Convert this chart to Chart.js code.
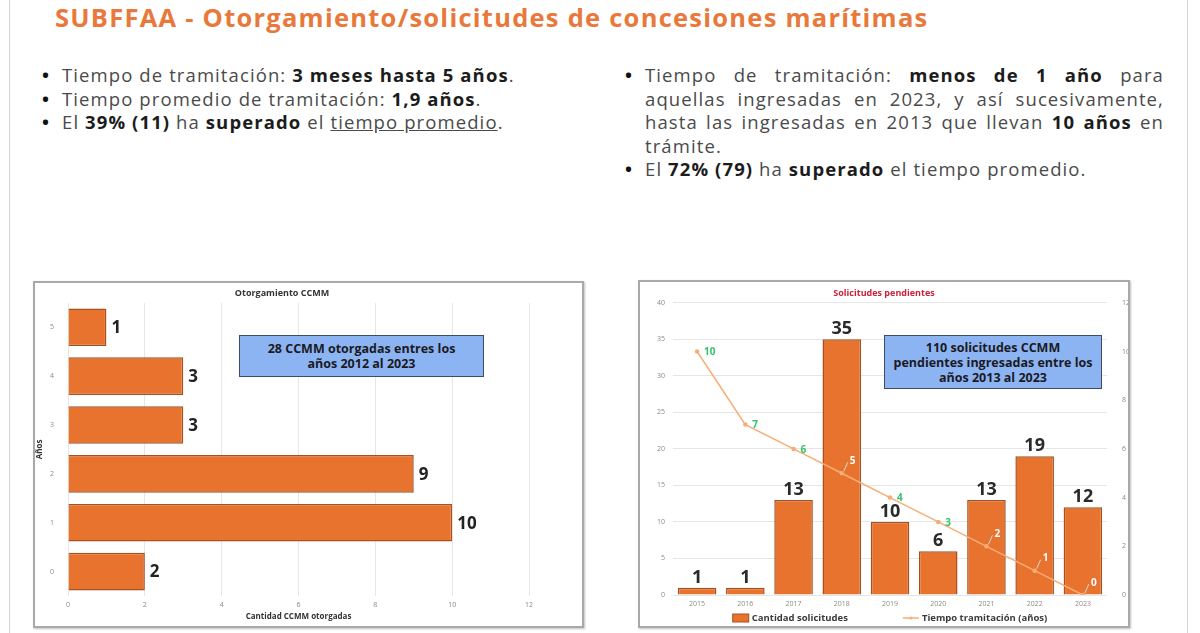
<!DOCTYPE html>
<html>
<head>
<meta charset="utf-8">
<script src="https://cdn.jsdelivr.net/npm/chart.js@4.4.0/dist/chart.umd.min.js"></script>
<style>
body { margin: 0; width: 1200px; height: 633px; background: #fff; position: relative; overflow: hidden; font-family: "Open Sans", "Noto Sans", sans-serif; }
.slide { position: absolute; left: 9px; top: -2px; width: 1177px; height: 640px; border-left: 1px solid #d6d6d6; border-right: 1px solid #d6d6d6; }
h1 { position: absolute; left: 55px; top: 0px; margin: 0; font-size: 25.5px; letter-spacing: 1.25px; font-weight: 700; color: #e8793b; white-space: nowrap; }
ul { position: absolute; margin: 0; padding: 0; list-style: none; font-size: 18.5px; letter-spacing: 1.1px; line-height: 23.6px; color: #4a4a4a; }
li { position: relative; padding-left: 20px; }
li:before { content: "\2022"; position: absolute; left: 0; color: #111; font-weight: 700; }
b { color: #1c1c1c; }
.frame { position: absolute; box-sizing: border-box; border: 2px solid #a9a9a9; background: #fff; box-shadow: 1px 1px 2px rgba(0,0,0,0.25); }
.frame canvas { position: absolute; left: 0; top: 0; }
.note { position: absolute; box-sizing: border-box; background: #8db4f2; border: 1.5px solid #3e4c66; color: #1a1a24; font-weight: 700; font-size: 12.5px; line-height: 15px; text-align: center; display: flex; align-items: center; justify-content: center; }
</style>
</head>
<body>
<div class="slide"></div>
<h1>SUBFFAA - Otorgamiento/solicitudes de concesiones marítimas</h1>

<ul style="left:42px; top:63px; width:540px;">
  <li>Tiempo de tramitación: <b>3 meses hasta 5 años</b>.</li>
  <li>Tiempo promedio de tramitación: <b>1,9 años</b>.</li>
  <li>El <b>39% (11)</b> ha <b>superado</b> el <u>tiempo promedio</u>.</li>
</ul>

<ul style="left:625px; top:63px; width:539px; text-align:justify;">
  <li>Tiempo de tramitación: <b>menos de 1 año</b> para aquellas ingresadas en 2023, y así sucesivamente, hasta las ingresadas en 2013 que llevan <b>10 años</b> en trámite.</li>
  <li>El <b>72% (79)</b> ha <b>superado</b> el tiempo promedio.</li>
</ul>

<div class="frame" style="left:33px; top:281px; width:551px; height:347px;">
  <canvas id="grantChart" width="547" height="343"></canvas>
</div>
<div class="frame" style="left:638px; top:280px; width:492px; height:348px;">
  <canvas id="requestChart" width="488" height="344"></canvas>
</div>

<div class="note" style="left:239px; top:335px; width:245px; height:42px;">28 CCMM otorgadas entres los<br>años 2012 al 2023</div>
<div class="note" style="left:884px; top:335px; width:218px; height:54px;">110 solicitudes CCMM<br>pendientes ingresadas entre los<br>años 2013 al 2023</div>

<script>
// otorgamiento: años de tramitación vs cantidad otorgada
const grantYears = ['0', '1', '2', '3', '4', '5'];
const grantCounts = [2, 10, 9, 3, 3, 1];

// solicitudes pendientes por año de ingreso
const requestYears = ['2015', '2016', '2017', '2018', '2019', '2020', '2021', '2022', '2023'];
const requestCounts = [1, 1, 13, 35, 10, 6, 13, 19, 12];
const processingYears = [10, 7, 6, 5, 4, 3, 2, 1, 0];

const orange = '#e8732f';
const orangeEdge = '#a9501f';
const tickFont = { family: 'Open Sans', size: 7 };
const tickColor = '#8a8a8a';
const gridColor = '#e6e6e6';

Chart.defaults.font.family = 'Open Sans';

// etiquetas de las barras horizontales
const grantLabels = {
    id: 'grantLabels',
    afterDatasetsDraw(chart) {
        const ctx = chart.ctx;
        const meta = chart.getDatasetMeta(0);
        ctx.save();
        ctx.font = 'bold 17px "Open Sans"';
        ctx.fillStyle = '#222';
        ctx.textAlign = 'left';
        ctx.textBaseline = 'middle';
        meta.data.forEach(function (bar, i) {
            ctx.fillText(chart.data.datasets[0].data[i], bar.x + 5, bar.y + 1);
        });
        ctx.restore();
    }
};

const grantConfig = {
    type: 'bar',
    data: {
        labels: grantYears,
        datasets: [{
            data: grantCounts,
            backgroundColor: orange,
            borderColor: orangeEdge,
            borderWidth: 1.5,
            barPercentage: 0.77,
            categoryPercentage: 1
        }]
    },
    options: {
        indexAxis: 'y',
        responsive: false,
        animation: false,
        devicePixelRatio: 1,
        layout: { padding: { left: 0, right: 53, top: 0, bottom: 0 } },
        plugins: {
            legend: { display: false },
            tooltip: { enabled: false },
            title: {
                display: true,
                text: 'Otorgamiento CCMM',
                color: '#333',
                font: { size: 9, weight: 'bold' },
                padding: { top: 5, bottom: 4 }
            }
        },
        scales: {
            x: {
                min: 0, max: 12,
                ticks: { stepSize: 2, font: tickFont, color: tickColor, padding: 5 },
                grid: { color: gridColor, drawTicks: false },
                border: { display: false },
                title: { display: true, text: 'Cantidad CCMM otorgadas', color: '#333', font: { size: 8, weight: 'bold' }, padding: { top: 0, bottom: 4 } },
                afterFit: function (s) { s.height = 30; }
            },
            y: {
                reverse: true,
                ticks: { font: tickFont, color: tickColor, padding: 6 },
                grid: { display: false },
                border: { display: false },
                title: { display: true, text: 'Años', color: '#333', font: { size: 8, weight: 'bold' }, padding: 0 },
                afterFit: function (s) { s.width = 33; }
            }
        }
    },
    plugins: [grantLabels]
};
new Chart(document.getElementById('grantChart'), grantConfig);

// etiquetas de barras, de la línea y leyenda
const requestLabels = {
    id: 'requestLabels',
    afterDatasetsDraw(chart) {
        const ctx = chart.ctx;
        const bars = chart.getDatasetMeta(0).data;
        const points = chart.getDatasetMeta(1).data;
        ctx.save();
        ctx.font = 'bold 18px "Open Sans"';
        ctx.fillStyle = '#2a2a2a';
        ctx.textAlign = 'center';
        ctx.textBaseline = 'bottom';
        bars.forEach(function (bar, i) {
            ctx.fillText(requestCounts[i], bar.x, bar.y - 1);
        });

        ctx.font = 'bold 10px "Open Sans"';
        ctx.textBaseline = 'middle';
        ctx.textAlign = 'left';
        points.forEach(function (pt, i) {
            const inside = pt.y >= bars[i].y - 1;
            if (inside) {
                ctx.strokeStyle = '#d9d9d9';
                ctx.lineWidth = 1;
                ctx.beginPath();
                ctx.moveTo(pt.x + 2, pt.y - 2);
                ctx.lineTo(pt.x + 6, pt.y - 11);
                ctx.stroke();
                ctx.fillStyle = '#ffffff';
                ctx.fillText(processingYears[i], pt.x + 8, pt.y - 12);
            } else {
                ctx.fillStyle = '#35c26a';
                ctx.fillText(processingYears[i], pt.x + 7, pt.y + 1);
            }
        });
        ctx.restore();
    },
    afterDraw(chart) {
        const ctx = chart.ctx;
        const ds = chart.data.datasets;
        const y = 336;
        ctx.save();
        ctx.font = 'bold 9.5px "Open Sans"';
        ctx.textBaseline = 'middle';
        ctx.textAlign = 'left';
        const w0 = ctx.measureText(ds[0].label).width;
        const w1 = ctx.measureText(ds[1].label).width;
        const gap = 55;
        const total = 16 + 3 + w0 + gap + 16 + 3 + w1;
        let x = (chart.chartArea.left + chart.chartArea.right) / 2 - total / 2;
        ctx.fillStyle = ds[0].backgroundColor;
        ctx.strokeStyle = ds[0].borderColor;
        ctx.fillRect(x, y - 4, 16, 8);
        ctx.strokeRect(x, y - 4, 16, 8);
        ctx.fillStyle = '#3a3a3a';
        ctx.fillText(ds[0].label, x + 19, y);
        x += 19 + w0 + gap;
        ctx.strokeStyle = ds[1].borderColor;
        ctx.lineWidth = 1.5;
        ctx.beginPath();
        ctx.moveTo(x, y);
        ctx.lineTo(x + 16, y);
        ctx.stroke();
        ctx.fillStyle = ds[1].borderColor;
        ctx.beginPath();
        ctx.arc(x + 8, y, 1.5, 0, Math.PI * 2);
        ctx.fill();
        ctx.fillStyle = '#3a3a3a';
        ctx.fillText(ds[1].label, x + 19, y);
        ctx.restore();
    }
};

const requestConfig = {
    type: 'bar',
    data: {
        labels: requestYears,
        datasets: [
            {
                type: 'bar',
                label: 'Cantidad solicitudes',
                data: requestCounts,
                backgroundColor: orange,
                borderColor: orangeEdge,
                borderWidth: 1.5,
                barPercentage: 0.8,
                categoryPercentage: 1,
                yAxisID: 'y',
                order: 2
            },
            {
                type: 'line',
                label: 'Tiempo tramitación (años)',
                data: processingYears,
                borderColor: '#f7ad76',
                backgroundColor: '#f7ad76',
                borderWidth: 1.5,
                pointRadius: 1.5,
                tension: 0,
                yAxisID: 'y1',
                order: 1
            }
        ]
    },
    options: {
        responsive: false,
        animation: false,
        devicePixelRatio: 1,
        layout: { padding: { left: 0, right: 0, top: 0, bottom: 0 } },
        plugins: {
            legend: { display: false },
            tooltip: { enabled: false },
            title: {
                display: true,
                text: 'Solicitudes pendientes',
                color: '#cc1f3a',
                font: { size: 9, weight: 'bold' },
                padding: { top: 6, bottom: 4 }
            }
        },
        scales: {
            x: {
                ticks: { font: tickFont, color: tickColor, padding: 5 },
                grid: { display: false, drawTicks: false },
                border: { display: false },
                afterFit: function (s) { s.height = 31; }
            },
            y: {
                position: 'left',
                min: 0, max: 40,
                ticks: { stepSize: 5, font: tickFont, color: tickColor, padding: 8 },
                grid: { color: gridColor, drawTicks: false },
                border: { display: false },
                afterFit: function (s) { s.width = 33; }
            },
            y1: {
                position: 'right',
                min: 0, max: 12,
                ticks: { stepSize: 2, font: tickFont, color: tickColor, padding: 7 },
                grid: { display: false },
                border: { display: false },
                afterFit: function (s) { s.width = 21; }
            }
        }
    },
    plugins: [requestLabels]
};
new Chart(document.getElementById('requestChart'), requestConfig);
</script>
</body>
</html>
